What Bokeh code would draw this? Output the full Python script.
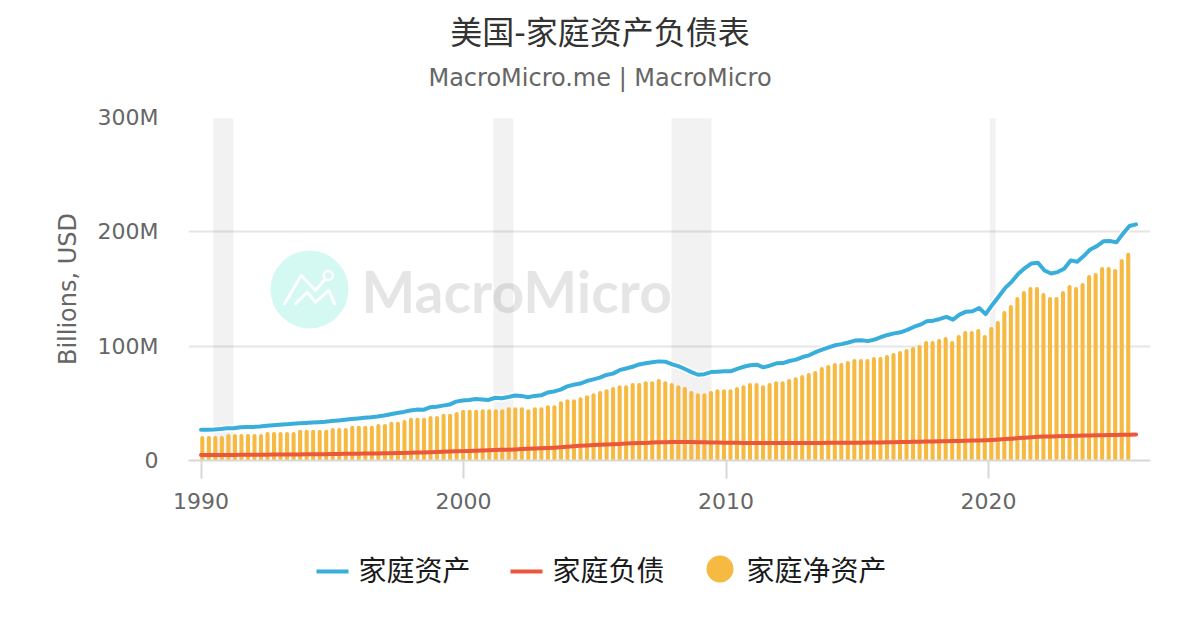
from bokeh.plotting import figure
from bokeh.layouts import column
from bokeh.models import Range1d, FixedTicker
from bokeh.core.properties import value
from bokeh.embed import file_html
from bokeh.resources import INLINE

# ---- data (USD) ----
net_worth = [
    21.5,21.5,21.5,21.5,23.2,23.2,23.2,23.2,23.2,23.2,25.0,25.0,25.0,25.0,25.0,26.8,26.8,26.8,26.8,26.8,
    28.5,28.5,28.5,30.3,30.3,30.3,30.3,32.0,32.0,33.8,33.8,35.5,37.3,37.3,37.3,39.0,39.0,40.8,40.8,42.5,
    44.3,44.3,44.3,
    44.9,44.9,44.9,44.9,46.6,46.6,46.6,44.9,46.6,46.6,48.4,48.4,51.9,53.6,53.6,55.4,57.1,58.9,60.7,62.4,
    64.2,65.9,65.9,67.7,67.7,69.4,69.4,71.2,69.4,67.7,65.9,64.2,60.7,58.9,58.9,60.7,62.4,
    62.4,62.4,64.2,65.9,67.7,67.7,65.9,67.7,69.4,69.4,71.2,72.9,74.7,76.5,78.2,81.7,83.5,85.2,85.2,87.0,
    88.7,88.7,88.7,90.5,
    90.5,92.2,94.0,95.8,97.5,99.3,101.0,104.5,104.5,106.3,108.0,104.5,109.8,113.3,113.3,115.0,109.8,116.8,
    122.1,130.8,136.0,143.0,148.3,151.8,151.8,146.6,143.0,143.0,148.3,153.5,151.8,155.3,162.3,164.0,169.3,
    169.3,167.6,176.3,181.6,
]
assets = [
    27.0,27.0,27.2,27.6,28.2,28.3,29.0,29.3,29.4,29.8,30.4,30.9,31.3,31.6,32.2,32.6,32.9,33.2,33.5,33.9,
    34.5,35.0,35.6,36.2,36.8,37.4,37.8,38.4,39.3,40.5,41.6,42.5,43.7,44.5,44.3,46.5,47.0,48.0,48.9,51.5,
    52.5,53.0,53.8,
    53.4,53.0,54.9,54.5,55.6,56.9,56.5,55.3,56.5,57.0,59.4,60.4,62.0,64.8,66.2,67.3,69.5,71.0,72.5,74.8,
    76.0,79.0,80.5,82.0,84.0,85.0,86.0,86.7,86.4,84.2,82.5,80.0,77.3,75.0,75.5,77.3,77.6,
    78.0,78.0,80.2,82.0,83.3,83.8,81.5,83.0,85.0,85.2,87.0,88.2,90.5,92.0,94.8,97.0,99.0,100.8,101.8,103.2,
    104.9,105.1,104.4,105.8,
    108.0,109.8,111.2,112.1,114.2,116.8,118.8,121.8,122.3,123.8,125.6,123.2,127.6,130.2,130.5,133.4,128.0,136.1,
    143.4,151.0,156.5,163.3,168.3,172.4,172.9,166.2,163.5,164.8,167.7,175.0,173.8,178.8,184.6,187.5,191.7,
    192.0,190.8,198.4,205.1,206.5,
]
liabilities = [
    4.8,4.8,4.8,4.9,4.9,4.9,5.0,5.0,5.0,5.1,5.1,5.2,5.2,5.3,5.3,5.3,5.4,5.4,5.5,5.5,5.6,5.7,5.8,5.9,6.0,6.1,
    6.2,6.2,6.3,6.4,6.5,6.6,6.8,6.9,7.0,7.2,7.4,7.6,7.8,8.0,8.2,8.4,8.6,8.8,
    8.9,9.1,9.3,9.5,9.7,10.0,10.2,10.4,10.7,10.9,11.2,11.6,12.0,12.4,12.8,13.2,13.5,13.7,14.0,14.2,14.5,14.8,
    15.0,15.2,15.4,15.7,15.9,16.0,16.1,16.2,16.2,16.1,16.0,15.9,15.8,15.7,15.6,
    15.5,15.5,15.4,15.4,15.4,15.3,15.3,15.3,15.3,15.3,15.3,15.3,15.4,15.4,15.4,15.5,15.5,15.5,15.6,15.6,15.6,
    15.7,15.7,15.8,15.9,16.0,16.1,16.2,16.4,
    16.5,16.6,16.7,16.8,16.9,17.0,17.1,17.2,17.4,17.6,17.8,18.0,18.3,18.7,19.1,19.6,20.0,20.4,20.7,21.0,21.1,
    21.3,21.4,21.5,21.6,21.8,21.9,22.0,22.1,22.2,22.3,22.5,22.6,22.8,
]
bar_years = [1990.05 + i * 0.2484 for i in range(len(net_worth))]
line_years = [1990 + i * 0.2491 for i in range(len(assets))]
recession_start = [1990.47, 2001.14, 2007.92, 2020.05]
recession_end = [1991.24, 2001.90, 2009.45, 2020.27]

title_text = "美国-家庭资产负债表"
subtitle_text = "MacroMicro.me | MacroMicro"
y_title = "Billions, USD"
x_ticks = [1990, 2000, 2010, 2020]
y_ticks = [0, 100, 200, 300]
y_tick_labels = {0: "0", 100: "100M", 200: "200M", 300: "300M"}
series_names = ["家庭资产", "家庭负债", "家庭净资产"]

BLUE, RED, ORANGE = "#3aaedb", "#ea573b", "#f6b941"
LATIN = "DejaVu Sans"
MIXED = "DejaVu Sans, Noto Sans CJK SC"
CJK = "Noto Sans CJK SC"
PAGE_W = 1184
FRAME_L, FRAME_R = 188, 1150
HEAD_H = 95    # header strip: page y 0..95
MAIN_H = 435   # chart strip: page y 95..530
FOOT_H = 84    # legend strip: page y 530..614


def X(px):
    return 1990 + (px - 200.5) / 26.25


def Y(py):
    return (460 - py) * 300 / 343


def strip(height, y_top):
    """Axis-free strip whose data coordinates are page pixels; the column aligns its frame with the chart's."""
    s = figure(width=PAGE_W, height=height, output_backend="svg", toolbar_location=None,
               x_range=Range1d(FRAME_L, FRAME_R), y_range=Range1d(y_top + height, y_top),
               min_border_left=FRAME_L, min_border_right=PAGE_W - FRAME_R, min_border_top=0, min_border_bottom=0,
               x_axis_type=None, y_axis_type=None)
    s.outline_line_color = None
    s.grid.visible = False
    return s


# ---- header ----
head = strip(HEAD_H, 0)
head.text([599.5], [32], text=[title_text], text_font=value(MIXED), text_font_size="32px", text_color="#333333",
          text_align="center", text_baseline="middle")
head.text([599.5], [77.5], text=[subtitle_text], text_font=value(LATIN), text_font_size="24px", text_color="#666666",
          text_align="center", text_baseline="middle")

# ---- main chart ----
p = figure(width=PAGE_W, height=MAIN_H, output_backend="svg", toolbar_location=None,
           x_range=Range1d(X(FRAME_L), X(FRAME_R)), y_range=Range1d(0, 300),
           min_border_left=FRAME_L, min_border_right=PAGE_W - FRAME_R, min_border_top=22,
           min_border_bottom=MAIN_H - 343 - 22)
p.outline_line_color = None

p.xaxis.ticker = FixedTicker(ticks=x_ticks)
p.xaxis.axis_line_color = "#d8d8d8"
p.xaxis.axis_line_width = 2
p.xaxis.major_tick_line_color = "#d8d8d8"
p.xaxis.major_tick_line_width = 2
p.xaxis.major_tick_out = 18
p.xaxis.major_tick_in = 0
p.xaxis.minor_tick_line_color = None
p.xaxis.major_label_text_font = LATIN
p.xaxis.major_label_text_font_size = "22px"
p.xaxis.major_label_text_color = "#666666"
p.xaxis.major_label_standoff = 14

p.yaxis.ticker = FixedTicker(ticks=y_ticks)
p.yaxis.major_label_overrides = y_tick_labels
p.yaxis.axis_line_color = None
p.yaxis.major_tick_line_color = None
p.yaxis.minor_tick_line_color = None
p.yaxis.major_label_text_font = LATIN
p.yaxis.major_label_text_font_size = "22px"
p.yaxis.major_label_text_color = "#666666"
p.yaxis.major_label_standoff = 24
p.yaxis.axis_label = y_title
p.yaxis.axis_label_text_font = LATIN
p.yaxis.axis_label_text_font_size = "24px"
p.yaxis.axis_label_text_font_style = "normal"
p.yaxis.axis_label_text_color = "#666666"
p.yaxis.axis_label_standoff = 13

p.xgrid.grid_line_color = None
p.ygrid.grid_line_color = "#e6e6e6"
p.ygrid.grid_line_width = 2
p.ygrid.ticker = FixedTicker(ticks=y_ticks)

p.quad(left=recession_start, right=recession_end, bottom=0, top=299.3,
       fill_color="black", fill_alpha=0.05, line_color=None)

# watermark
p.scatter([X(309)], [Y(289)], size=78, marker="circle", fill_color="#d4f8f2", line_color=None)
for xs, ys in [
    ([284, 300.7, 315, 325], [303.3, 275, 290, 278.3]),
    ([295, 306.7, 315, 328.3, 334], [303.3, 291.7, 301.7, 290, 303.3]),
]:
    p.line([X(v) for v in xs], [Y(v) for v in ys], line_color="white", line_width=3,
           line_cap="round", line_join="round")
p.scatter([X(327.7)], [Y(275)], size=9, marker="circle", fill_color="#d4f8f2",
          line_color="white", line_width=2.5)
p.text([X(361)], [Y(290)], text=["MacroMicro"], text_font=value("Lato"), text_font_style="bold",
       text_font_size="57px", text_color="black", text_alpha=0.1, text_baseline="middle", text_align="left")

# series
p.line(line_years, assets, line_color="white", line_width=7, line_join="round")
p.vbar(x=bar_years, top=net_worth, bottom=0, width=0.155, fill_color=ORANGE, line_color=None, border_radius=2)
p.line(line_years, assets, line_color=BLUE, line_width=4, line_join="round", line_cap="round")
p.line(line_years, liabilities, line_color=RED, line_width=4, line_join="round", line_cap="round")

# ---- legend ----
foot = strip(FOOT_H, 530)
foot.line([316, 348], [571, 571], line_color=BLUE, line_width=4)
foot.line([510, 542], [571, 571], line_color=RED, line_width=4)
foot.scatter([719.5], [568.5], size=27, marker="circle", fill_color=ORANGE, line_color=None)
foot.text([358, 552, 746], [568, 568, 568], text=series_names, text_font=value(CJK), text_font_size="28px",
          text_color="#1a1a1a", text_align="left", text_baseline="middle")

page = column(head, p, foot, spacing=0)
open("out.html", "w").write(file_html(page, INLINE))
